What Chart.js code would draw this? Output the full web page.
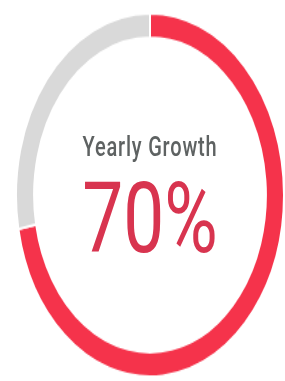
<!DOCTYPE html>
<html>
<head>
<meta charset="utf-8">
<script src="https://cdn.jsdelivr.net/npm/chart.js@4.4.1/dist/chart.umd.min.js"></script>
<style>
  html, body { margin: 0; padding: 0; background: #ffffff; width: 285px; height: 381px; overflow: hidden; }
  #wrap { position: absolute; left: 15px; top: 12px; width: 270px; height: 270px; transform-origin: 0 0; transform: scaleY(1.3556); }
  #c { position: absolute; left: 0; top: 0; }
  .lbl { position: absolute; left: 0; width: 270px; text-align: center; font-family: Roboto, "Noto Sans", sans-serif; white-space: nowrap; }
  #title { top: 87px; font-size: 20px; font-weight: 500; color: #5e6262; line-height: 24px; letter-spacing: 0.8px; }
  #value { top: 112px; font-size: 73px; font-weight: 400; color: #d8344f; line-height: 80px; }
</style>
</head>
<body>
<div id="wrap">
  <canvas id="c" width="270" height="270"></canvas>
  <div class="lbl" id="title"></div>
  <div class="lbl" id="value"></div>
</div>
<script>
const categories = ["Growth", "Remaining"];
const values = [72, 28];
const colors = ["#f5334b", "#d9d9d9"];
const titleText = "Yearly Growth";
const valueText = "70%";

document.getElementById('title').textContent = titleText;
document.getElementById('value').textContent = valueText;

new Chart(document.getElementById('c'), {
  type: 'doughnut',
  data: {
    labels: categories,
    datasets: [{
      data: values,
      backgroundColor: colors,
      borderColor: '#ffffff',
      borderWidth: 2,
      hoverOffset: 0
    }]
  },
  options: {
    responsive: false,
    animation: false,
    cutout: '86.5%',
    rotation: 0,
    layout: { padding: 0 },
    plugins: { legend: { display: false }, tooltip: { enabled: false } }
  }
});
</script>
</body>
</html>
